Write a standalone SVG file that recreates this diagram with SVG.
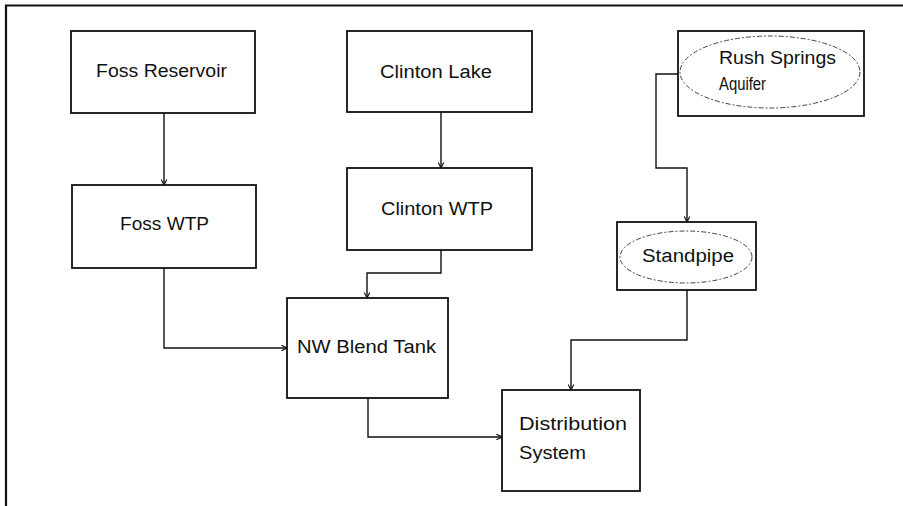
<svg xmlns="http://www.w3.org/2000/svg" width="903" height="506" viewBox="0 0 903 506">
  <defs>
    <marker id="arrow" viewBox="0 0 10 10" refX="9" refY="5" markerWidth="7" markerHeight="7" orient="auto" markerUnits="userSpaceOnUse">
      <path d="M1,1 L9,5 L1,9" fill="none" stroke="#111" stroke-width="1.6"/>
    </marker>
    <style>
      .frame { fill: none; stroke: #111; stroke-width: 2.2; }
      .box { fill: #fff; stroke: #111; stroke-width: 1.8; }
      .oval { fill: none; stroke: #444; stroke-width: 1; stroke-dasharray: 5 2 2 2; }
      .link { fill: none; stroke: #111; stroke-width: 1.4; marker-end: url(#arrow); }
      .label { font-family: "Liberation Sans", Arial, sans-serif; font-size: 18px; fill: #111; }
    </style>
  </defs>

  <rect width="903" height="506" fill="#fff"/>

  <!-- page frame -->
  <path class="frame" d="M6,506 L6,5.5 L903,5.5"/>

  <!-- connectors -->
  <g id="connectors">
    <path class="link" d="M164,113 L164,185"/>
    <path class="link" d="M441,112 L441,168"/>
    <path class="link" d="M441,250 L441,273 L367,273 L367,298"/>
    <path class="link" d="M164,268 L164,348 L287,348"/>
    <path class="link" d="M368,398 L368,437 L502,437"/>
    <path class="link" d="M678,74 L656,74 L656,168 L687,168 L687,222"/>
    <path class="link" d="M687,290 L687,340 L571,340 L571,390"/>
  </g>

  <g id="foss-reservoir">
    <rect class="box" x="71" y="31" width="184" height="82"/>
    <text class="label" x="96" y="77" textLength="131" lengthAdjust="spacingAndGlyphs">Foss Reservoir</text>
  </g>

  <g id="foss-wtp">
    <rect class="box" x="72" y="185" width="184" height="83"/>
    <text class="label" x="120" y="230" textLength="89" lengthAdjust="spacingAndGlyphs">Foss WTP</text>
  </g>

  <g id="clinton-lake">
    <rect class="box" x="347" y="31" width="185" height="81"/>
    <text class="label" x="380" y="78" textLength="112" lengthAdjust="spacingAndGlyphs">Clinton Lake</text>
  </g>

  <g id="clinton-wtp">
    <rect class="box" x="347" y="168" width="185" height="82"/>
    <text class="label" x="381" y="215" textLength="112" lengthAdjust="spacingAndGlyphs">Clinton WTP</text>
  </g>

  <g id="nw-blend-tank">
    <rect class="box" x="287" y="298" width="161" height="100"/>
    <text class="label" x="297" y="353" textLength="139" lengthAdjust="spacingAndGlyphs">NW Blend Tank</text>
  </g>

  <g id="distribution-system">
    <rect class="box" x="502" y="390" width="138" height="101"/>
    <text class="label" x="519" y="430" textLength="108" lengthAdjust="spacingAndGlyphs">Distribution</text>
    <text class="label" x="519" y="459" textLength="67" lengthAdjust="spacingAndGlyphs">System</text>
  </g>

  <g id="rush-springs-aquifer">
    <rect class="box" x="678" y="31" width="186" height="85"/>
    <ellipse class="oval" cx="770" cy="72" rx="90" ry="36"/>
    <text class="label" x="719" y="64" textLength="117" lengthAdjust="spacingAndGlyphs">Rush Springs</text>
    <text class="label" x="719" y="90" textLength="47" lengthAdjust="spacingAndGlyphs">Aquifer</text>
  </g>

  <g id="standpipe">
    <rect class="box" x="617" y="222" width="139" height="68"/>
    <ellipse class="oval" cx="686" cy="257" rx="66" ry="26"/>
    <text class="label" x="642" y="262" textLength="92" lengthAdjust="spacingAndGlyphs">Standpipe</text>
  </g>
</svg>
